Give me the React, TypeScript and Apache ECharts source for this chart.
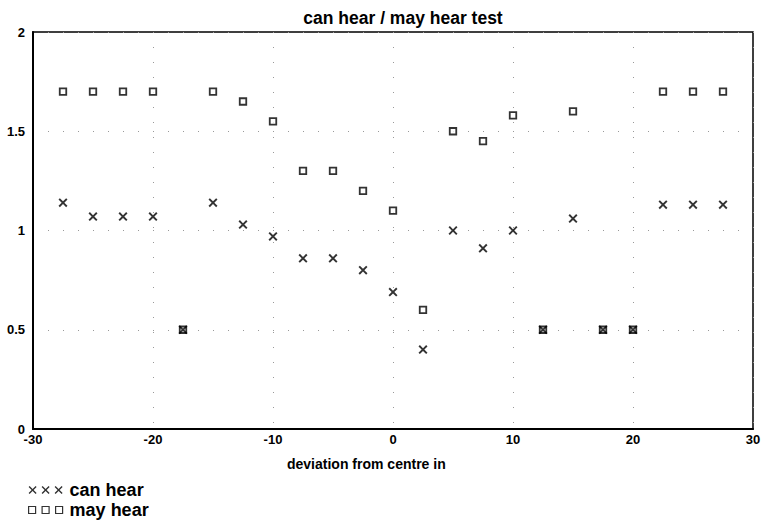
import React, { useEffect, useRef } from "react";
import * as echarts from "echarts";

const xValues = [-27.5, -25, -22.5, -20, -17.5, -15, -12.5, -10, -7.5, -5, -2.5, 0, 2.5, 5, 7.5, 10, 12.5, 15, 17.5, 20, 22.5, 25, 27.5];
const canHear = [1.14, 1.07, 1.07, 1.07, 0.5, 1.14, 1.03, 0.97, 0.86, 0.86, 0.8, 0.69, 0.4, 1.0, 0.91, 1.0, 0.5, 1.06, 0.5, 0.5, 1.13, 1.13, 1.13];
const mayHear = [1.7, 1.7, 1.7, 1.7, 0.5, 1.7, 1.65, 1.55, 1.3, 1.3, 1.2, 1.1, 0.6, 1.5, 1.45, 1.58, 0.5, 1.6, 0.5, 0.5, 1.7, 1.7, 1.7];
const seriesNames = ["can hear", "may hear"];
const titleText = "can hear / may hear test";
const xAxisTitle = "deviation from centre in";

const FONT = "'Liberation Sans', Arial, Helvetica, sans-serif";

function crossSeg(ox: number, s: number, t: number) {
  const h = s / 2;
  return `M${ox},${t}L${ox + t},0L${ox + h},${h - t}L${ox + s - t},0L${ox + s},${t}L${ox + h + t},${h}L${ox + s},${s - t}L${ox + s - t},${s}L${ox + h},${h + t}L${ox + t},${s}L${ox},${s - t}L${ox + h - t},${h}Z`;
}

const crossSymbol = "path://" + crossSeg(0, 9, 1.35);
const crossLegend = "path://" + crossSeg(0, 8, 1.0) + crossSeg(13, 8, 1.0) + crossSeg(26, 8, 1.0);
const squareLegend = "path://M0,0h7v7h-7ZM13.5,0h7v7h-7ZM27,0h7v7h-7Z";

export default function App() {
  const ref = useRef<HTMLDivElement>(null);
  useEffect(() => {
    if (!ref.current) return;
    const chart = echarts.init(ref.current, undefined, { renderer: "svg" });
    const dotted = { show: true, lineStyle: { color: "#999", width: 1, type: [1, 14] as any } };
    chart.setOption({
      animation: false,
      backgroundColor: "#fff",
      title: {
        text: titleText,
        left: 403,
        textAlign: "center",
        top: 9,
        padding: 0,
        textStyle: { fontFamily: FONT, fontWeight: "bold", fontSize: 17.5, color: "#000" },
      },
      grid: {
        left: 33,
        right: 14,
        top: 32,
        bottom: 93,
        show: true,
        borderColor: "#000",
        borderWidth: 1.5,
        backgroundColor: "transparent",
      },
      legend: {
        orient: "vertical",
        left: 28,
        top: 481,
        itemWidth: 34,
        itemHeight: 8,
        itemGap: 2,
        padding: 0,
        selectedMode: false,
        textStyle: { fontFamily: FONT, fontWeight: "bold", fontSize: 18, color: "#000", padding: [0, 0, 0, 2] },
        data: [
          { name: seriesNames[0], icon: crossLegend, itemStyle: { color: "#000", borderWidth: 0 } },
          { name: seriesNames[1], icon: squareLegend, itemStyle: { color: "#fff", borderColor: "#000", borderWidth: 1.2 } },
        ],
      },
      xAxis: {
        type: "value",
        min: -30,
        max: 30,
        interval: 10,
        axisLine: { show: true, onZero: false, lineStyle: { color: "#000", width: 2 } },
        axisTick: { show: false },
        splitLine: dotted,
        axisLabel: { color: "#000", fontFamily: FONT, fontWeight: "bold", fontSize: 13, margin: 4 },
      },
      yAxis: {
        type: "value",
        min: 0,
        max: 2,
        interval: 0.5,
        axisLine: { show: true, onZero: false, lineStyle: { color: "#000", width: 2 } },
        axisTick: { show: false },
        splitLine: dotted,
        axisLabel: { color: "#000", fontFamily: FONT, fontWeight: "bold", fontSize: 13, margin: 8 },
      },
      graphic: [
        {
          type: "text",
          left: 287,
          top: 457,
          style: { text: xAxisTitle, fill: "#000", font: `bold 14px ${FONT}` },
        },
      ],
      series: [
        {
          name: seriesNames[1],
          type: "scatter",
          symbol: "rect",
          symbolSize: 6.5,
          itemStyle: { color: "#fff", borderColor: "#000", borderWidth: 1.8 },
          data: xValues.map((x, i) => [x, mayHear[i]]),
          z: 3,
        },
        {
          name: seriesNames[0],
          type: "scatter",
          symbol: crossSymbol,
          symbolSize: 9,
          symbolKeepAspect: true,
          itemStyle: { color: "#000" },
          data: xValues.map((x, i) => [x, canHear[i]]),
          z: 4,
        },
      ],
    });
    return () => chart.dispose();
  }, []);
  return <div ref={ref} style={{ width: 767, height: 522, position: "absolute", left: 0, top: 0 }} />;
}
